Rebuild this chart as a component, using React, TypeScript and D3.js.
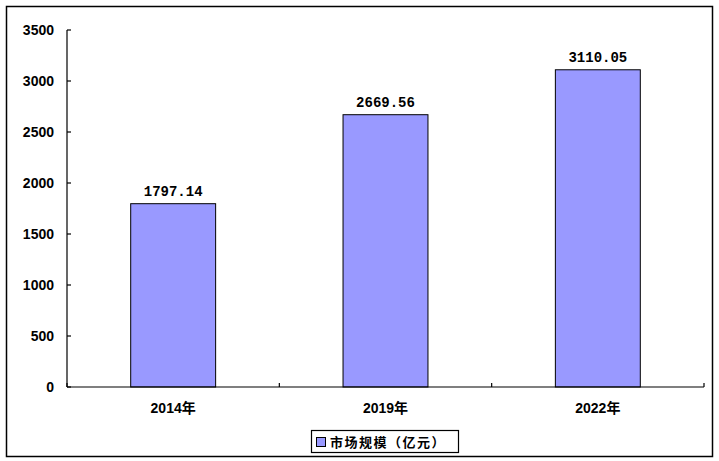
import React from "react";
import * as d3 from "d3";

const categories = ["2014年", "2019年", "2022年"];
const values = [1797.14, 2669.56, 3110.05];
const yTicks = [0, 500, 1000, 1500, 2000, 2500, 3000, 3500];
const seriesName = "市场规模（亿元）";

export default function App() {
  const W = 719, H = 461;
  const left = 67, right = 704, top = 30, bottom = 387;
  const x = d3.scaleBand<string>().domain(categories).range([left, right]).paddingInner(0).paddingOuter(0);
  const y = d3.scaleLinear().domain([0, 3500]).range([bottom, top]);
  const bw = x.bandwidth();
  const barW = bw * 0.4;
  const boundaries = categories.map((c) => x(c)!).concat([right]);
  return (
    <svg width={W} height={H} style={{ position: "absolute", left: 0, top: 0 }}>
      <rect x={0} y={0} width={W} height={H} fill="#fff" />
      <rect x={6.5} y={6.5} width={706} height={450} fill="none" stroke="#000" strokeWidth={1.5} />
      {categories.map((c, i) => {
        const cx = x(c)! + bw / 2;
        return (
          <g key={c}>
            <rect x={cx - barW / 2} y={y(values[i])} width={barW} height={bottom - y(values[i])} fill="#9999FF" stroke="#000" strokeWidth={1} />
            <text x={cx} y={y(values[i]) - 8} textAnchor="middle" fontFamily="'Liberation Mono', monospace" fontWeight="bold" fontSize={14} fill="#000">
              {values[i].toFixed(2)}
            </text>
            <text x={cx} y={413} textAnchor="middle" fontFamily="'Liberation Sans', 'Noto Sans CJK SC', sans-serif" fontWeight="bold" fontSize={14} fill="#000">
              {c}
            </text>
          </g>
        );
      })}
      <line x1={left} x2={left} y1={top} y2={bottom} stroke="#000" strokeWidth={1.2} />
      <line x1={left} x2={right} y1={bottom} y2={bottom} stroke="#000" strokeWidth={1.2} />
      {yTicks.map((t) => (
        <g key={t}>
          <line x1={left} x2={left + 4} y1={y(t)} y2={y(t)} stroke="#000" strokeWidth={1.2} />
          <text x={54} y={y(t) + 5} textAnchor="end" fontFamily="'Liberation Sans', sans-serif" fontWeight="bold" fontSize={14} fill="#000">
            {t}
          </text>
        </g>
      ))}
      {boundaries.map((b, i) => (
        <line key={i} x1={b} x2={b} y1={bottom} y2={bottom - 4} stroke="#000" strokeWidth={1.2} />
      ))}
      <rect x={311.5} y={430.5} width={147} height={22} fill="#fff" stroke="#000" strokeWidth={1.2} />
      <rect x={316.5} y={437.5} width={9} height={9} fill="#9999FF" stroke="#000" strokeWidth={1} />
      <text x={330} y={447} fontFamily="'Noto Sans CJK SC', sans-serif" fontWeight="bold" fontSize={13} letterSpacing={1.5} fill="#000">
        {seriesName}
      </text>
    </svg>
  );
}
